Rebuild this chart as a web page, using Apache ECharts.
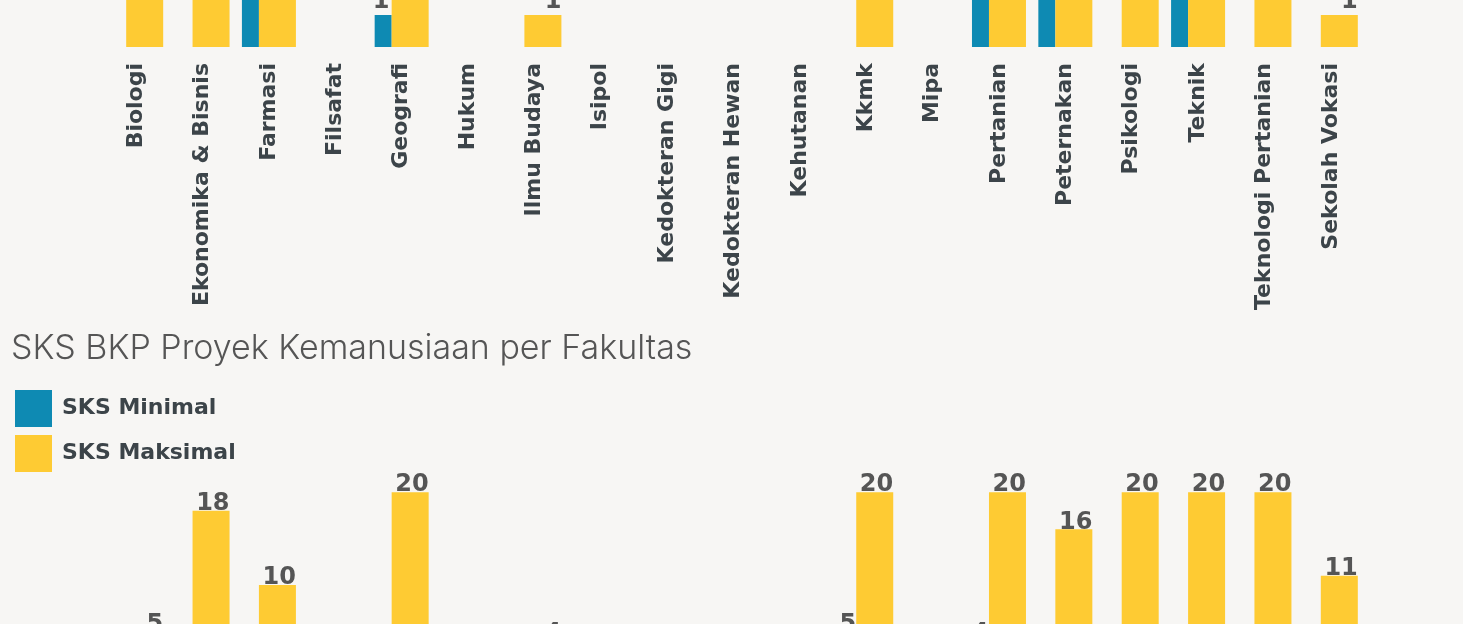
<!DOCTYPE html>
<html>
<head>
<meta charset="utf-8">
<script src="https://cdn.jsdelivr.net/npm/echarts@6/dist/echarts.min.js"></script>
<style>
html,body{margin:0;padding:0;background:#f7f6f4;overflow:hidden;}
#c{width:1463px;height:624px;}
</style>
</head>
<body>
<div id="c"></div>
<script>
const categories = ['Biologi','Ekonomika & Bisnis','Farmasi','Filsafat','Geografi','Hukum','Ilmu Budaya','Isipol','Kedokteran Gigi','Kedokteran Hewan','Kehutanan','Kkmk','Mipa','Pertanian','Peternakan','Psikologi','Teknik','Teknologi Pertanian','Sekolah Vokasi'];
const seriesNames = ['SKS Minimal','SKS Maksimal'];
// previous chart (only its lower part is in view)
const prevMin = [null,null,2,null,1,null,null,null,null,null,null,null,null,2,2,null,2,null,null];
const prevMax = [3,3,3,null,3,null,1,null,null,null,null,3,null,3,3,3,3,3,1];
// SKS BKP Proyek Kemanusiaan per Fakultas
const kemMin = [null,null,null,null,null,null,null,null,null,null,null,5,null,4,null,null,null,null,null];
const kemMax = [5,18,10,null,20,null,4,null,null,null,null,20,null,20,16,20,20,20,11];
const titleText = 'SKS BKP Proyek Kemanusiaan per Fakultas';

const BLUE = '#0e8ab3', YELLOW = '#fecb33';
const BOLD = '"DejaVu Sans", Verdana, sans-serif';
const THIN = 'Inter, Lato, sans-serif';

function labelFor(align, off, dist){
  return {show:true, position:'top', align:align, distance:dist, offset:[off,0],
    color:'#555555', fontFamily:BOLD, fontWeight:'bold', fontSize:24};
}

const chart = echarts.init(document.getElementById('c'));
chart.setOption({
  backgroundColor:'#f7f6f4',
  animation:false,
  title:{text:titleText, left:11, top:332, padding:0,
    textStyle:{fontFamily:THIN, fontWeight:300, fontSize:34, color:'#555555'}},
  legend:{data:seriesNames, orient:'vertical', left:15, top:390, padding:0, itemWidth:37, itemHeight:37, itemGap:8, icon:'rect',
    textStyle:{fontFamily:BOLD, fontWeight:'bold', fontSize:22, color:'#3c4449', padding:[2,0,0,5]}},
  grid:[
    {left:103, right:99, top:-81, height:128, outerBoundsMode:'none', containLabel:false},
    {left:103, right:99, top:455, height:223, outerBoundsMode:'none', containLabel:false}
  ],
  xAxis:[
    {gridIndex:0, type:'category', data:categories, axisLine:{show:false}, axisTick:{show:false},
      axisLabel:{rotate:90, margin:16, interval:0, color:'#3c4449', fontFamily:BOLD, fontWeight:'bold', fontSize:22}},
    {gridIndex:1, type:'category', data:categories, axisLine:{show:false}, axisTick:{show:false},
      axisLabel:{show:false}}
  ],
  yAxis:[
    {gridIndex:0, type:'value', min:0, max:4, show:false, splitLine:{show:false}},
    {gridIndex:1, type:'value', min:0, max:24, show:false, splitLine:{show:false}}
  ],
  series:[
    {name:seriesNames[0], type:'bar', xAxisIndex:0, yAxisIndex:0, data:prevMin, barWidth:17, barGap:0, itemStyle:{color:BLUE}, label:labelFor('center',-2,1)},
    {name:seriesNames[1], type:'bar', xAxisIndex:0, yAxisIndex:0, data:prevMax, barWidth:37, barGap:0, itemStyle:{color:YELLOW}, label:labelFor('right',18.5,1)},
    {name:seriesNames[0], type:'bar', xAxisIndex:1, yAxisIndex:1, data:kemMin, barWidth:17, barGap:0, itemStyle:{color:BLUE}, label:labelFor('center',0,-5)},
    {name:seriesNames[1], type:'bar', xAxisIndex:1, yAxisIndex:1, data:kemMax, barWidth:37, barGap:0, itemStyle:{color:YELLOW}, label:labelFor('right',18.5,-5)}
  ]
});
</script>
</body>
</html>
